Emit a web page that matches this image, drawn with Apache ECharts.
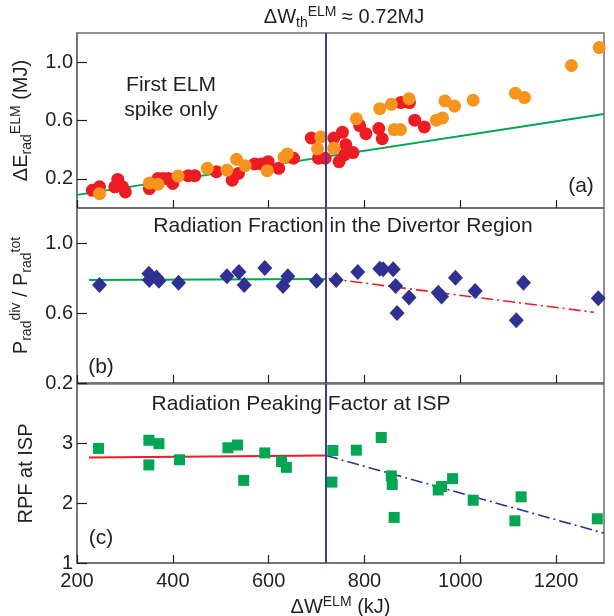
<!DOCTYPE html>
<html>
<head>
<meta charset="utf-8">
<script src="https://cdn.jsdelivr.net/npm/echarts@6/dist/echarts.min.js"></script>
<style>
html,body{margin:0;padding:0;background:#fff;}
#chart{width:614px;height:616px;}
</style>
</head>
<body>
<div id="chart"></div>
<script>
// ---------- data ----------
const xTicks = [200, 400, 600, 800, 1000, 1200];
const ticksA = [0.2, 0.6, 1.0];
const ticksB = [0.2, 0.6, 1.0];
const ticksC = [1, 2, 3];
const elmW = 720; // ΔW_th^ELM ≈ 0.72 MJ

// panel (a): ΔE_rad^ELM (MJ)
const redW = [232, 247, 279, 285, 295, 301, 351, 369, 380, 391, 400, 432, 446, 491, 524, 537, 571, 585, 599, 621, 652, 689, 704, 718, 736, 754, 761, 747, 758, 776, 790, 803, 830, 837, 876, 894, 905, 925];
const redE = [0.121, 0.145, 0.145, 0.196, 0.145, 0.110, 0.133, 0.202, 0.202, 0.202, 0.168, 0.221, 0.221, 0.249, 0.191, 0.237, 0.302, 0.302, 0.318, 0.272, 0.341, 0.480, 0.341, 0.341, 0.480, 0.519, 0.434, 0.318, 0.364, 0.380, 0.565, 0.510, 0.545, 0.475, 0.723, 0.723, 0.602, 0.556];
const orangeW = [247, 351, 369, 411, 472, 513, 533, 551, 597, 632, 639, 702, 709, 736, 783, 832, 856, 862, 875, 893, 950, 963, 968, 988, 1027, 1115, 1134, 1232, 1290];
const orangeE = [0.098, 0.172, 0.163, 0.219, 0.272, 0.260, 0.334, 0.290, 0.256, 0.348, 0.371, 0.406, 0.487, 0.410, 0.612, 0.681, 0.711, 0.538, 0.538, 0.750, 0.602, 0.618, 0.734, 0.699, 0.739, 0.787, 0.757, 0.977, 1.100];
const fitA = [[200, 0.09], [1300, 0.645]];

// panel (b): P_rad^div / P_rad^tot
const fracW = [247, 350, 351, 366, 371, 412, 513, 538, 549, 592, 630, 640, 700, 741, 786, 832, 839, 860, 865, 868, 893, 954, 961, 990, 1031, 1117, 1132, 1288];
const fracV = [0.760, 0.825, 0.788, 0.803, 0.784, 0.773, 0.810, 0.835, 0.760, 0.857, 0.754, 0.810, 0.784, 0.788, 0.835, 0.853, 0.850, 0.850, 0.754, 0.600, 0.688, 0.716, 0.694, 0.801, 0.726, 0.559, 0.773, 0.684];
const fitBLow = [[225, 0.788], [720, 0.795]];
const fitBHigh = [[725, 0.797], [1279, 0.604]];

// panel (c): RPF at ISP
const rpfW = [245, 350, 350, 371, 414, 515, 535, 548, 592, 627, 637, 734, 732, 783, 835, 856, 858, 862, 954, 961, 984, 1027, 1114, 1127, 1286];
const rpfV = [2.920, 3.057, 2.644, 3.000, 2.730, 2.931, 2.977, 2.385, 2.845, 2.701, 2.603, 2.885, 2.356, 2.891, 3.103, 2.460, 2.316, 1.764, 2.224, 2.282, 2.414, 2.052, 1.707, 2.109, 1.741];
const fitCLow = [[225, 2.77], [720, 2.80]];
const fitCHigh = [[720, 2.80], [1300, 1.50]];

// ---------- styling ----------
const FONT = 'Liberation Sans, Arial, Helvetica, sans-serif';
const TXT = '#231f20';
const FRAME = '#6d6e71';
const pair = (xs, ys) => xs.map((x, i) => [x, ys[i]]);

const chart = echarts.init(document.getElementById('chart'), null, {renderer: 'canvas'});

const grids = [
  {left: 77, top: 33, width: 527, height: 175},
  {left: 77, top: 208, width: 527, height: 175},
  {left: 77, top: 384, width: 527, height: 179}
].map(g => Object.assign(g, {show: true, borderColor: FRAME, borderWidth: 1.5, backgroundColor: 'transparent', containLabel: false, outerBoundsMode: 'none'}));

const richBase = {
  n: {fontSize: 20, fontFamily: FONT, fontWeight: 'normal', color: TXT, lineHeight: 25, verticalAlign: 'middle'},
  sub: {fontSize: 14, fontFamily: FONT, fontWeight: 'normal', color: TXT, lineHeight: 14, verticalAlign: 'bottom'},
  sup: {fontSize: 14, fontFamily: FONT, fontWeight: 'normal', color: TXT, lineHeight: 14, verticalAlign: 'top'}
};

function xAxis(i, showLabel) {
  return {
    type: 'value', gridIndex: i, min: 200, max: 1300,
    axisLine: {show: true, lineStyle: {color: FRAME, width: 1.5}},
    axisTick: {show: true, inside: true, length: 8, lineStyle: {color: TXT, width: 1.2}, customValues: xTicks},
    axisLabel: {show: showLabel, customValues: xTicks, color: TXT, fontSize: 20, fontFamily: FONT, margin: 8, formatter: v => String(v)},
    splitLine: {show: false},
    name: showLabel ? '{n|ΔW}{sup|ELM}{n| (kJ)}' : '',
    nameLocation: 'middle', nameGap: 32,
    nameTextStyle: {fontFamily: FONT, color: TXT, rich: richBase}
  };
}

function yAxis(i, min, max, ticks, name, gap, fmt) {
  return {
    type: 'value', gridIndex: i, min: min, max: max,
    axisLine: {show: true, lineStyle: {color: FRAME, width: 1.5}},
    axisTick: {show: true, inside: true, length: 10, lineStyle: {color: TXT, width: 1.2}, customValues: ticks},
    axisLabel: {customValues: ticks, color: TXT, fontSize: 20, fontFamily: FONT, margin: 4, formatter: fmt},
    splitLine: {show: false},
    name: name, nameLocation: 'middle', nameRotate: 90, nameGap: gap,
    nameTextStyle: {fontFamily: FONT, color: TXT, rich: richBase}
  };
}

const vLine = {
  silent: true, symbol: 'none', label: {show: false},
  lineStyle: {color: '#3b3b9e', width: 2, type: 'solid'},
  data: [{xAxis: elmW}]
};

const txt = (x, y, s) => ({type: 'text', style: {x: x, y: y, text: s, font: '21px ' + FONT, fill: TXT, align: 'center', verticalAlign: 'middle'}});

const option = {
  animation: false,
  backgroundColor: '#fff',
  textStyle: {fontFamily: FONT},
  title: {
    text: '{n|ΔW}{sub|th}{sup|ELM}{n| ≈ 0.72MJ}',
    left: 339, top: 0, textAlign: 'center',
    textStyle: {fontWeight: 'normal', rich: richBase}
  },
  grid: grids,
  xAxis: [xAxis(0, false), xAxis(1, false), xAxis(2, true)],
  yAxis: [
    yAxis(0, 0, 1.2, ticksA, '{n|ΔE}{sub|rad}{sup|ELM}{n| (MJ)}', 40, v => v.toFixed(1)),
    yAxis(1, 0.2, 1.2, ticksB, '{n|P}{sub|rad}{sup|div}{n| / P}{sub|rad}{sup|tot}', 40, v => v.toFixed(1)),
    yAxis(2, 1, 4, ticksC, '{n|RPF at ISP}', 38, v => String(v))
  ],
  graphic: [
    txt(171, 85, 'First ELM'),
    txt(171, 110, 'spike only'),
    txt(581, 186, '(a)'),
    txt(343, 226, 'Radiation Fraction in the Divertor Region'),
    txt(101, 367, '(b)'),
    txt(301, 404, 'Radiation Peaking Factor at ISP'),
    txt(101, 538, '(c)')
  ],
  series: [
    // panel a
    {type: 'line', xAxisIndex: 0, yAxisIndex: 0, data: fitA, symbol: 'none', lineStyle: {color: '#00a651', width: 2}, z: 2, markLine: vLine},
    {type: 'scatter', xAxisIndex: 0, yAxisIndex: 0, data: pair(redW, redE), symbol: 'circle', symbolSize: 13, itemStyle: {color: '#ec1c24', opacity: 1}, z: 3},
    {type: 'scatter', xAxisIndex: 0, yAxisIndex: 0, data: pair(orangeW, orangeE), symbol: 'circle', symbolSize: 13, itemStyle: {color: '#f7941d', opacity: 1}, z: 4},
    // panel b
    {type: 'line', xAxisIndex: 1, yAxisIndex: 1, data: fitBLow, symbol: 'none', lineStyle: {color: '#00a651', width: 2}, z: 2, markLine: vLine},
    {type: 'line', xAxisIndex: 1, yAxisIndex: 1, data: fitBHigh, symbol: 'none', lineStyle: {color: '#ed1c24', width: 1.6, type: [12, 4, 2, 4]}, z: 2},
    {type: 'scatter', xAxisIndex: 1, yAxisIndex: 1, data: pair(fracW, fracV), symbol: 'diamond', symbolSize: [15, 16], itemStyle: {color: '#2e3192', opacity: 1}, z: 3},
    // panel c
    {type: 'line', xAxisIndex: 2, yAxisIndex: 2, data: fitCLow, symbol: 'none', lineStyle: {color: '#ed1c24', width: 2}, z: 2, markLine: vLine},
    {type: 'line', xAxisIndex: 2, yAxisIndex: 2, data: fitCHigh, symbol: 'none', lineStyle: {color: '#2e3192', width: 1.6, type: [12, 4, 2, 4]}, z: 2},
    {type: 'scatter', xAxisIndex: 2, yAxisIndex: 2, data: pair(rpfW, rpfV), symbol: 'rect', symbolSize: 11, itemStyle: {color: '#00a651', opacity: 1}, z: 3}
  ]
};
chart.setOption(option);
</script>
</body>
</html>
